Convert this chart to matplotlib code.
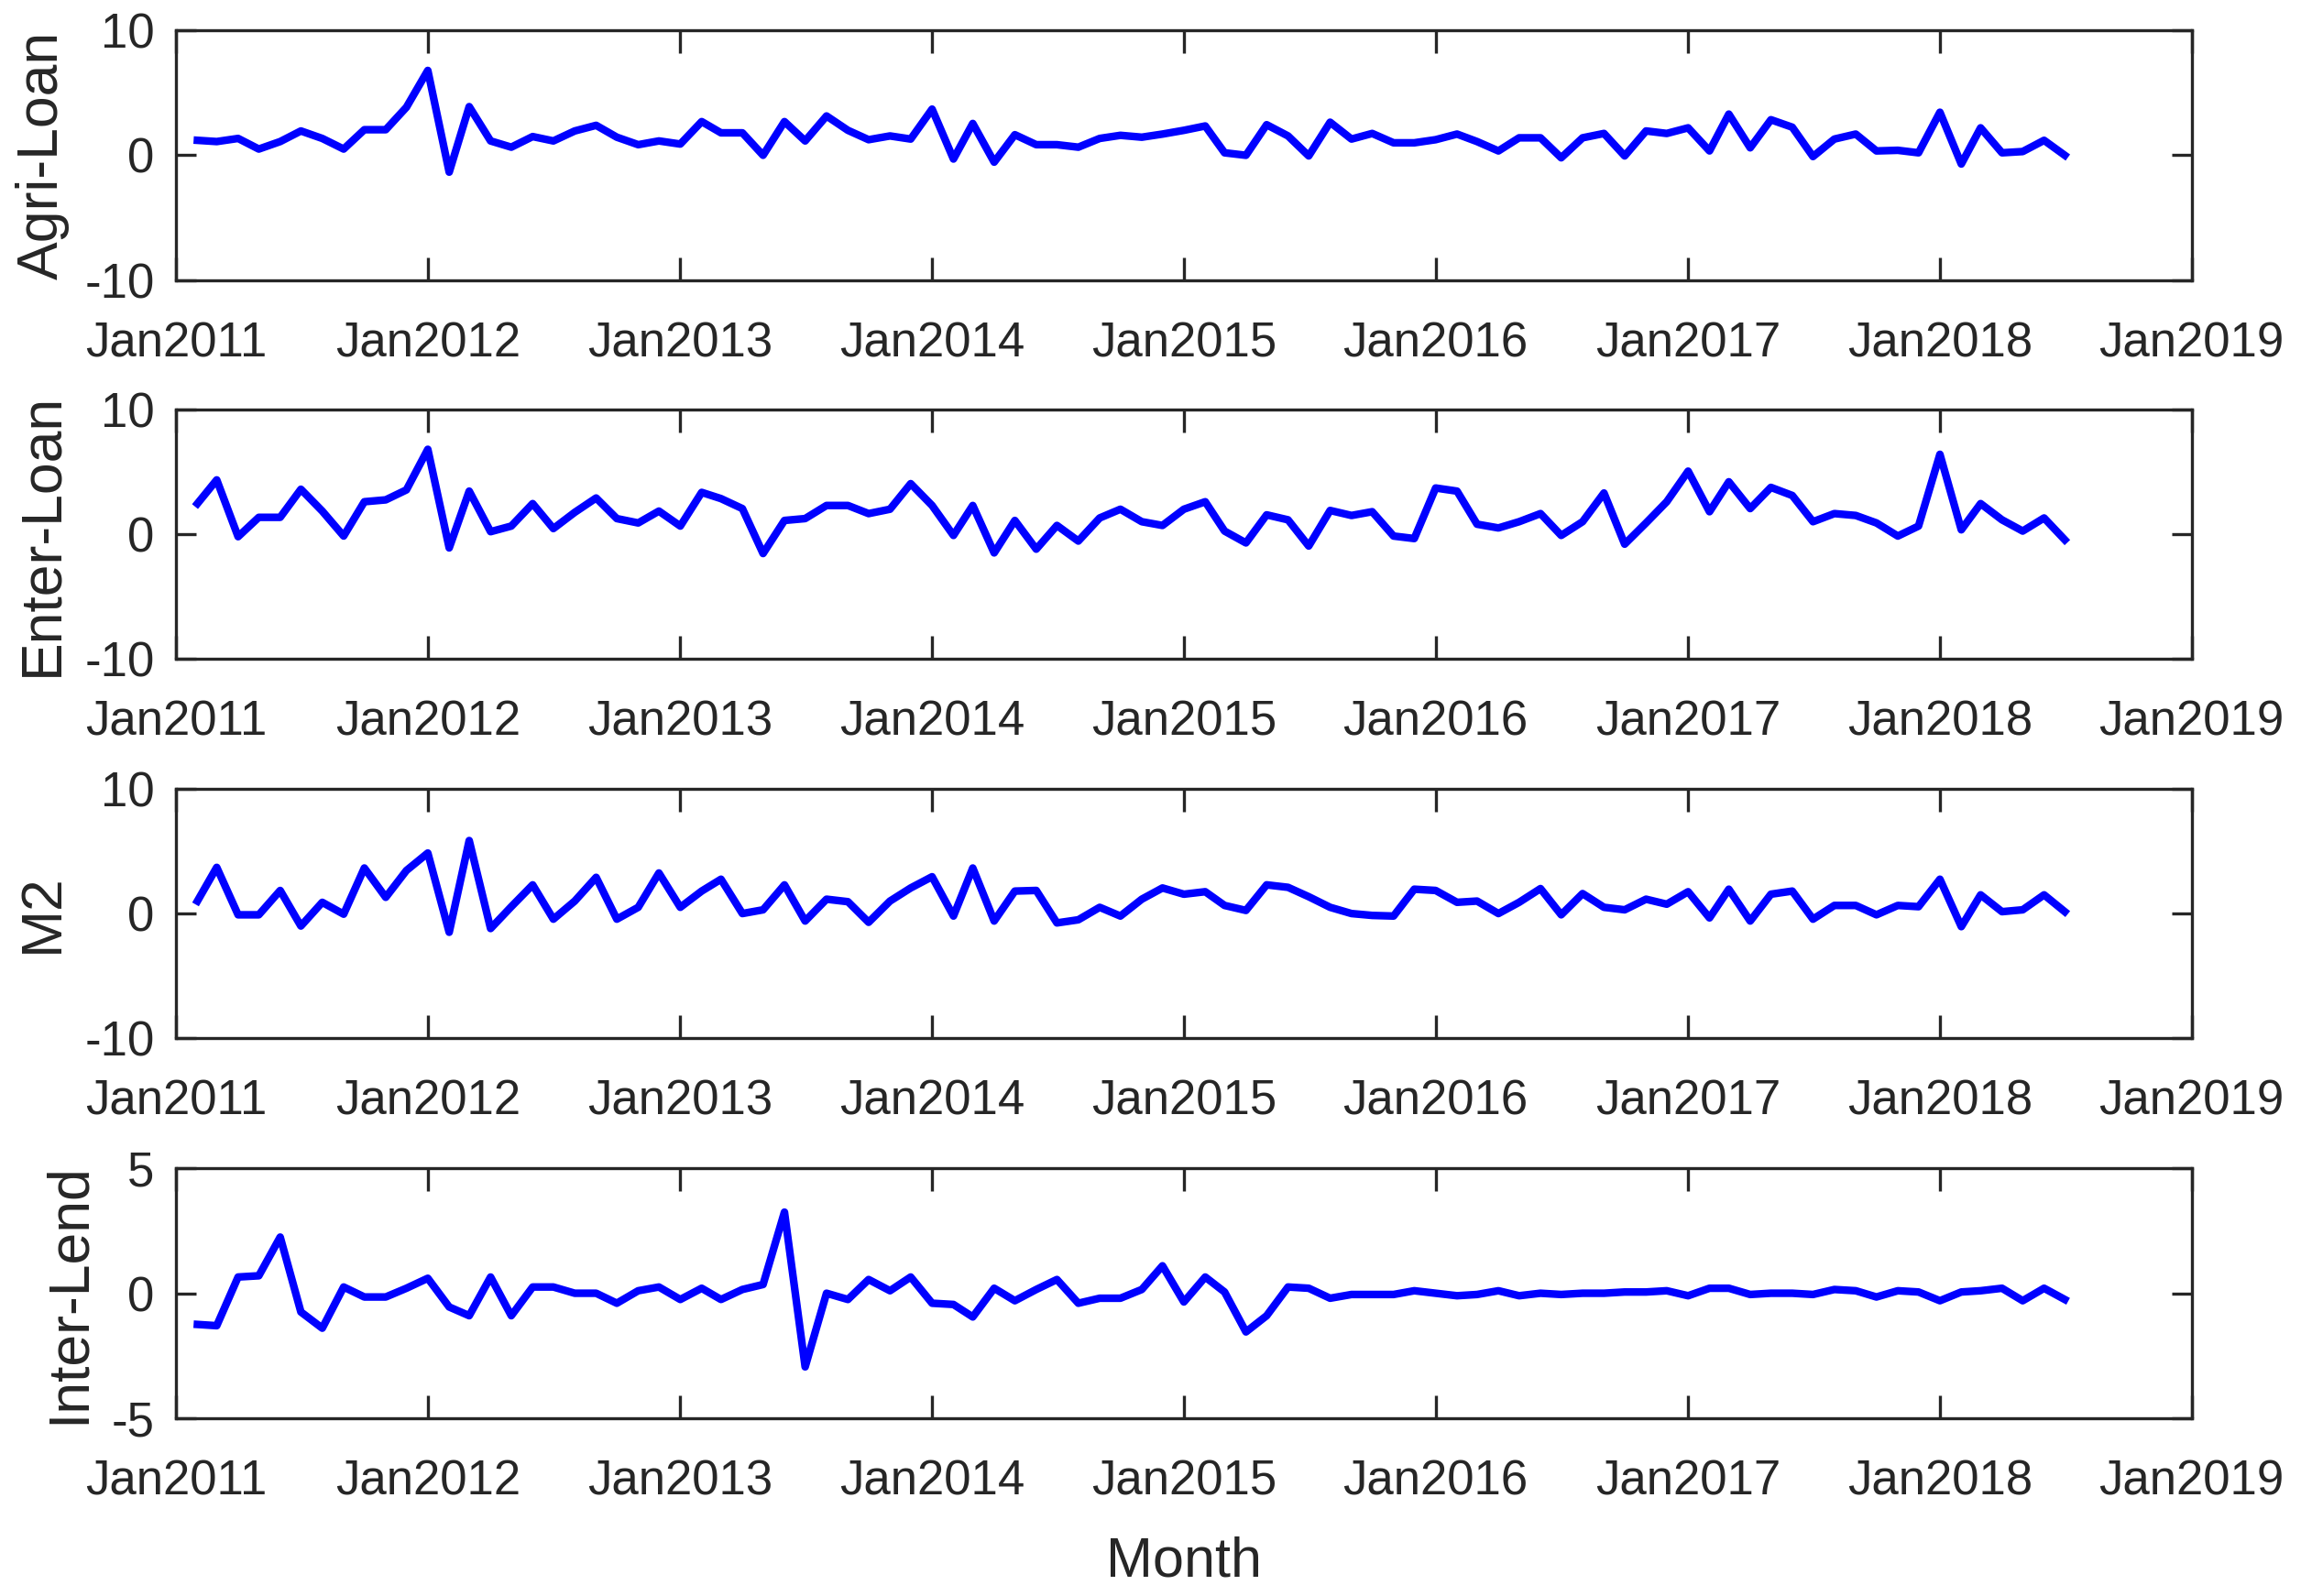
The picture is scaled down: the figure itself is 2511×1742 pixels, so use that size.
import numpy as np
import pandas as pd
import matplotlib
matplotlib.use('Agg')
import matplotlib.pyplot as plt
import matplotlib.dates as mdates

# monthly growth series, Feb 2011 .. Jul 2018
months = pd.date_range('2011-02-01', '2018-07-01', freq='MS')

agri_loan = [1.2, 1.1, 1.35, 0.5, 1.1, 1.95, 1.35, 0.5, 2.05, 2.05, 3.85,
             6.8, -1.35, 3.9, 1.15, 0.65, 1.5, 1.15, 1.95, 2.4, 1.45, 0.85, 1.15,
             0.9, 2.7, 1.8, 1.8, 0.0, 2.7, 1.15, 3.15, 2.0, 1.25, 1.55, 1.3,
             3.7, -0.3, 2.55, -0.55, 1.65, 0.85, 0.85, 0.65, 1.35, 1.6, 1.45, 1.7,
             2.0, 2.35, 0.2, 0.0, 2.45, 1.55, -0.05, 2.65, 1.3, 1.75, 1.0, 1.0,
             1.25, 1.7, 1.1, 0.35, 1.4, 1.4, -0.2, 1.4, 1.75, -0.05, 1.95, 1.75,
             2.2, 0.35, 3.3, 0.6, 2.85, 2.25, -0.1, 1.3, 1.7, 0.35, 0.4, 0.2,
             3.45, -0.7, 2.2, 0.2, 0.3, 1.2, 0.0]

enter_loan = [2.45, 4.35, -0.2, 1.35, 1.35, 3.6, 1.85, -0.15, 2.6, 2.75, 3.55,
              6.8, -1.1, 3.45, 0.2, 0.65, 2.45, 0.45, 1.75, 2.9, 1.25, 0.9, 1.85,
              0.65, 3.35, 2.85, 2.05, -1.55, 1.1, 1.25, 2.3, 2.3, 1.65, 2.0, 4.05,
              2.3, -0.1, 2.3, -1.5, 1.1, -1.2, 0.7, -0.55, 1.3, 2.0, 1.0, 0.7,
              2.0, 2.6, 0.25, -0.7, 1.55, 1.15, -0.95, 1.9, 1.5, 1.8, -0.15, -0.35,
              3.7, 3.45, 0.8, 0.5, 1.0, 1.65, -0.1, 1.0, 3.3, -0.8, 0.9, 2.6,
              5.05, 1.8, 4.2, 2.05, 3.75, 3.1, 1.0, 1.65, 1.5, 0.9, -0.15, 0.65,
              6.4, 0.35, 2.45, 1.15, 0.25, 1.3, -0.45]

m2 = [1.0, 3.7, -0.1, -0.1, 1.85, -1.0, 0.9, -0.05, 3.65, 1.3, 3.45,
      4.85, -1.5, 5.85, -1.2, 0.55, 2.3, -0.45, 1.0, 2.9, -0.45, 0.5, 3.25,
      0.5, 1.8, 2.75, 0.0, 0.3, 2.3, -0.6, 1.15, 0.95, -0.7, 1.0, 2.05,
      2.95, -0.2, 3.65, -0.6, 1.8, 1.85, -0.75, -0.5, 0.5, -0.2, 1.15, 2.05,
      1.55, 1.75, 0.65, 0.25, 2.3, 2.1, 1.35, 0.5, 0.0, -0.15, -0.2, 1.95,
      1.85, 0.9, 1.0, 0.0, 0.9, 2.0, -0.1, 1.6, 0.5, 0.3, 1.15, 0.75,
      1.75, -0.35, 1.95, -0.6, 1.55, 1.8, -0.45, 0.65, 0.65, -0.1, 0.65, 0.55,
      2.75, -1.05, 1.5, 0.15, 0.3, 1.5, 0.15]

inter_lend = [-1.25, -1.3, 0.65, 0.7, 2.25, -0.75, -1.4, 0.25, -0.15, -0.15, 0.2,
              0.6, -0.55, -0.9, 0.65, -0.9, 0.25, 0.25, 0.0, 0.0, -0.4, 0.1, 0.25,
              -0.25, 0.2, -0.25, 0.15, 0.35, 3.25, -2.95, 0.0, -0.25, 0.55, 0.1, 0.65,
              -0.4, -0.45, -0.95, 0.2, -0.3, 0.15, 0.55, -0.4, -0.2, -0.2, 0.15, 1.1,
              -0.35, 0.65, 0.05, -1.55, -0.9, 0.25, 0.2, -0.2, -0.05, -0.05, -0.05, 0.1,
              0.0, -0.1, -0.05, 0.1, -0.1, 0.0, -0.05, 0.0, 0.0, 0.05, 0.05, 0.1,
              -0.1, 0.2, 0.2, -0.05, 0.0, 0.0, -0.05, 0.15, 0.1, -0.15, 0.1, 0.05,
              -0.3, 0.05, 0.1, 0.2, -0.3, 0.2, -0.25]

ylabels = ['Agri-Loan', 'Enter-Loan', 'M2', 'Inter-Lend']
ylims = [10, 10, 10, 5]
series = [agri_loan, enter_loan, m2, inter_lend]

plt.rcParams['font.family'] = ['Liberation Sans', 'DejaVu Sans']
plt.rcParams['axes.unicode_minus'] = False
dark = '#262626'

fig = plt.figure(figsize=(25.11, 17.42), dpi=100)
bottoms = [0.8245, 0.5871, 0.3494, 0.1115]

for i in range(4):
    ax = fig.add_axes([0.0765, bottoms[i], 0.876, 0.1564])
    ax.plot(months, series[i], color='#0000ff', lw=6)
    lim = ylims[i]
    ax.set_ylim(-lim, lim)
    ax.set_yticks([-lim, 0, lim])
    ax.set_xlim(pd.Timestamp('2011-01-01'), pd.Timestamp('2019-01-01'))
    ax.xaxis.set_major_locator(mdates.YearLocator())
    ax.xaxis.set_major_formatter(mdates.DateFormatter('%b%Y'))
    ax.tick_params(axis='both', direction='in', top=True, right=True,
                   width=2.4, color=dark, labelcolor=dark, labelsize=38)
    ax.tick_params(axis='x', length=18, pad=32)
    ax.tick_params(axis='y', length=16, pad=17)
    for sp in ax.spines.values():
        sp.set_linewidth(2.4)
        sp.set_color(dark)
    ax.set_ylabel(ylabels[i], fontsize=45, color=dark, labelpad=12)
    if i == 3:
        ax.set_xlabel('Month', fontsize=44, color=dark, labelpad=25)

fig.savefig('out.png', dpi=100)
plt.close()
